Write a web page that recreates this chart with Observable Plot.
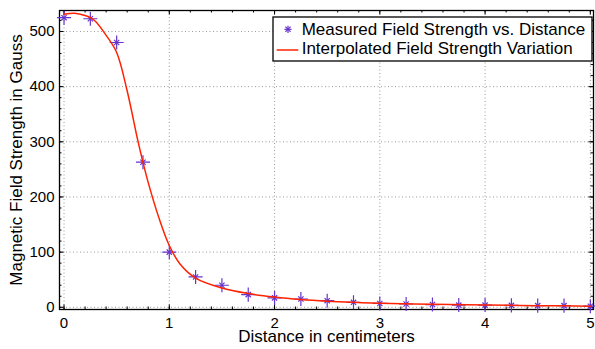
<!DOCTYPE html>
<html>
<head>
<meta charset="utf-8">
<script src="https://cdn.jsdelivr.net/npm/d3@7"></script>
<script src="https://cdn.jsdelivr.net/npm/@observablehq/plot@0.6"></script>
<style>
  body { margin: 0; background: #fff; }
</style>
</head>
<body>
<div id="chart"></div>
<script>
// ---- data ----
const distance = [0, 0.25, 0.5, 0.75, 1, 1.25, 1.5, 1.75, 2, 2.25, 2.5, 2.75, 3, 3.25, 3.5, 3.75, 4, 4.25, 4.5, 4.75, 5];
const measured = [525, 523, 480, 263, 100, 55, 40, 23, 17, 15, 12, 9, 7, 6, 5, 4, 4, 3.5, 3, 3, 2];

const curveX = [0, 0.1, 0.2, 0.25, 0.3, 0.4, 0.5, 0.6, 0.7, 0.75, 0.8, 0.9, 1.0, 1.1, 1.25, 1.5, 1.75, 2, 2.25, 2.5, 2.75, 3, 3.5, 4, 4.5, 5];
const curveY = [531, 533, 529, 525, 518, 493, 462, 392, 303, 263, 226, 163, 112, 79, 53, 35, 25, 18.5, 14, 11, 9, 7.5, 5.5, 4, 3, 2];

const xMajor = [0, 1, 2, 3, 4, 5];
const yMajor = [0, 100, 200, 300, 400, 500];
const xMinor = d3.range(0, 5.001, 0.2);
const yMinor = d3.range(0, 521, 20);

const xLabel = "Distance in centimeters";
const yLabel = "Magnetic Field Strength in Gauss";
const legendLabels = ["Measured Field Strength vs. Distance", "Interpolated Field Strength Variation"];

const pointColor = "#6633cc";
const lineColor = "#ff2200";

// ---- build tables ----
const points = distance.map((d, i) => ({x: d, y: measured[i]}));
const curve = curveX.map((d, i) => ({x: d, y: curveY[i]}));

const W = 595, H = 349;
const mL = 59, mT = 10, mR = 2, mB = 40;
const fw = W - mL - mR, fh = H - mT - mB;
const majorLen = 4.5, minorLen = 2.5;
const grid = {stroke: "#9a9a9a", strokeDasharray: "1,2.5", strokeWidth: 1};

const plot = Plot.plot({
  width: W,
  height: H,
  marginLeft: mL,
  marginTop: mT,
  marginRight: mR,
  marginBottom: mB,
  style: {fontFamily: "'Liberation Sans', Arial, Helvetica, sans-serif", fontSize: "15px", background: "#fff", color: "#000"},
  x: {domain: [-0.043, 5.03]},
  y: {domain: [-4, 538]},
  marks: [
    Plot.ruleX(xMajor, {x: d => d, ...grid}),
    Plot.ruleY(yMajor, {y: d => d, ...grid}),
    // inward ticks: bottom/top
    Plot.tickX(xMinor, {x: d => d, insetTop: fh - minorLen, stroke: "#000"}),
    Plot.tickX(xMinor, {x: d => d, insetBottom: fh - minorLen, stroke: "#000"}),
    Plot.tickX(xMajor, {x: d => d, insetTop: fh - majorLen, stroke: "#000"}),
    Plot.tickX(xMajor, {x: d => d, insetBottom: fh - majorLen, stroke: "#000"}),
    // inward ticks: left/right
    Plot.tickY(yMinor, {y: d => d, insetRight: fw - minorLen, stroke: "#000"}),
    Plot.tickY(yMinor, {y: d => d, insetLeft: fw - minorLen, stroke: "#000"}),
    Plot.tickY(yMajor, {y: d => d, insetRight: fw - majorLen, stroke: "#000"}),
    Plot.tickY(yMajor, {y: d => d, insetLeft: fw - majorLen, stroke: "#000"}),
    Plot.axisX(xMajor, {tickSize: 0, tickPadding: 8, fontSize: 15, label: null}),
    Plot.axisY(yMajor, {tickSize: 0, tickPadding: 5, fontSize: 15, label: null}),
    Plot.text([xLabel], {text: d => d, frameAnchor: "bottom", textAnchor: "middle", lineAnchor: "middle", dy: 27.3, fontSize: 17}),
    Plot.text([yLabel], {text: d => d, frameAnchor: "left", textAnchor: "middle", lineAnchor: "middle", rotate: -90, dx: -42.5, fontSize: 17}),
    Plot.frame({stroke: "#000", strokeWidth: 1.3}),
    Plot.dot(points, {x: "x", y: "y", symbol: "plus", r: 4.6, stroke: pointColor, strokeWidth: 1.2}),
    Plot.dot(points, {x: "x", y: "y", symbol: "times", r: 2.5, stroke: pointColor, strokeWidth: 1.2}),
    Plot.line(curve, {x: "x", y: "y", stroke: lineColor, strokeWidth: 1.5, curve: "catmull-rom"})
  ]
});

document.getElementById("chart").appendChild(plot);

// ---- legend (drawn into the same SVG) ----
const svg = d3.select(plot);
const lg = svg.append("g").attr("class", "legend").attr("text-anchor", "start");
lg.append("rect").attr("x", 273).attr("y", 17).attr("width", 319).attr("height", 44)
  .attr("fill", "#fff").attr("stroke", "#000").attr("stroke-width", 1.3);
// row 1 marker (asterisk)
const mx = 288, my = 29.3, a = 3.6, b = 2.6;
const star = lg.append("g").attr("stroke", pointColor).attr("stroke-width", 1.2);
star.append("line").attr("x1", mx - a).attr("x2", mx + a).attr("y1", my).attr("y2", my);
star.append("line").attr("x1", mx).attr("x2", mx).attr("y1", my - a).attr("y2", my + a);
star.append("line").attr("x1", mx - b).attr("x2", mx + b).attr("y1", my - b).attr("y2", my + b);
star.append("line").attr("x1", mx - b).attr("x2", mx + b).attr("y1", my + b).attr("y2", my - b);
// row 2 line
lg.append("line").attr("x1", 276.7).attr("x2", 298.3).attr("y1", 50).attr("y2", 50)
  .attr("stroke", lineColor).attr("stroke-width", 1.5);
lg.selectAll("text.lt").data(legendLabels).join("text").attr("class", "lt")
  .attr("x", 301.7).attr("y", (d, i) => i === 0 ? 35 : 54.3)
  .attr("text-anchor", "start")
  .attr("font-size", 17).attr("fill", "#000").text(d => d);
</script>
</body>
</html>
